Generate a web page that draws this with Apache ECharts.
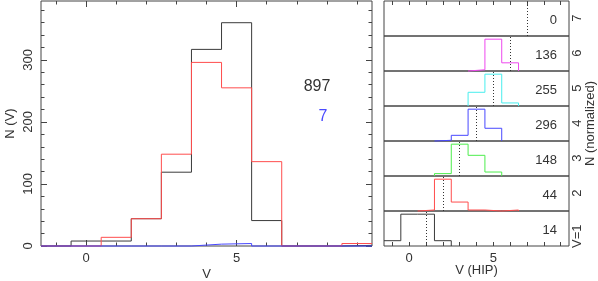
<!DOCTYPE html>
<html><head><meta charset="utf-8">
<script src="https://cdn.jsdelivr.net/npm/echarts@6/dist/echarts.min.js"></script>
<style>html,body{margin:0;padding:0;background:#fff}#c{width:598px;height:281px}</style>
</head><body><div id="c"></div>
<script>
// ---- data ----
const binCenters = [-1, 0, 1, 2, 3, 4, 5, 6, 7, 8, 9];
const countsV      = [0, 8, 8, 44, 119, 317, 360, 41, 0, 0, 1];     // black
const countsHipV   = [0, 0, 14, 44, 148, 296, 255, 136, 0, 0, 4];   // red
const countsOther  = [0, 0, 0, 0, 0, 3, 4, 0, 0, 0, 0];             // blue
const totalLabel = '897';
const otherLabel = '7';
const leftYMajor = [0, 100, 200, 300];
const leftYMinor = [20, 40, 60, 80, 120, 140, 160, 180, 220, 240, 260, 280, 320, 340, 360, 380];
const xMajor = [0, 5];
const xMinor = [-1, 1, 2, 3, 4, 6, 7, 8, 9];
const xAll = [-1, 0, 1, 2, 3, 4, 5, 6, 7, 8, 9];

// right panels (HIP V bin = 1..7), counts of V per bin -1..9
const panelNames  = ['V=1', '2', '3', '4', '5', '6', '7'];
const panelTotals = ['14', '44', '148', '296', '255', '136', '0'];
const panelHipV   = [1, 2, 3, 4, 5, 6, 7];
const panel1 = [1, 6, 6, 1, 0, 0, 0, 0, 0, 0, 0];
const panel2 = [0, 0, 1, 32, 9, 1, 0, 1, 0, 0, 0];
const panel3 = [0, 0, 0, 6, 80, 52, 10, 0, 0, 0, 0];
const panel4 = [0, 0, 0, 4, 33, 185, 74, 0, 0, 0, 0];
const panel5 = [0, 0, 0, 0, 0, 72, 167, 16, 0, 0, 0];
const panel6 = [0, 0, 0, 0, 0, 4, 105, 27, 0, 0, 0];
const panel7 = [];
const panelData = [panel1, panel2, panel3, panel4, panel5, panel6, panel7];
const panelColors = ['#3a3a3a', '#ff4d4d', '#4ded4d', '#4848ff', '#48eeee', '#ee48ee', '#3a3a3a'];

// ---- build ----
function steps(vals) {
  const pts = [];
  vals.forEach((v, i) => { pts.push([binCenters[i] - 0.5, v]); pts.push([binCenters[i] + 0.5, v]); });
  return pts;
}
function trimmedSteps(vals) {
  let a = vals.findIndex(v => v > 0);
  let b = vals.length - 1;
  while (b > 0 && !(vals[b] > 0)) b--;
  if (a < 0) return [];
  const pts = [];
  if (a > 0) pts.push([binCenters[a] - 0.5, 0]);
  for (let i = a; i <= b; i++) { pts.push([binCenters[i] - 0.5, vals[i]]); pts.push([binCenters[i] + 0.5, vals[i]]); }
  pts.push([binCenters[b] + 0.5, 0]);
  return pts;
}
function normalize(vals) {
  const m = Math.max(...vals);
  return vals.map(v => v / m);
}
const FONT = "'Liberation Sans', Arial, sans-serif";
const TXT = '#333';
const FRAME = '#444';

const chart = echarts.init(document.getElementById('c'), null, { renderer: 'canvas' });

const grids = [{ left: 41, top: 1, width: 331, height: 245, show: true, borderColor: FRAME, borderWidth: 1, backgroundColor: 'transparent', containLabel: false, outerBoundsMode: 'none' }];
const panelH = 35;
for (let k = 0; k < 7; k++) {
  grids.push({ left: 384, top: 1 + panelH * (6 - k), width: 185, height: panelH, show: true, borderColor: FRAME, borderWidth: 1, backgroundColor: 'transparent', containLabel: false, outerBoundsMode: 'none' });
}

function tickAxis(gridIndex, pos, vals, len, extra) {
  return Object.assign({
    gridIndex, type: 'value', position: pos, min: -1.5, max: 9.5,
    axisLine: { show: false, onZero: false }, splitLine: { show: false },
    axisTick: { show: vals.length > 0, inside: true, length: len, customValues: vals, lineStyle: { color: FRAME } },
    axisLabel: { show: false }
  }, extra || {});
}
function yTickAxis(gridIndex, pos, vals, len, extra) {
  return Object.assign({
    gridIndex, type: 'value', position: pos, min: 0, max: 395,
    axisLine: { show: false, onZero: false }, splitLine: { show: false },
    axisTick: { show: true, inside: true, length: len, customValues: vals, lineStyle: { color: FRAME } },
    axisLabel: { show: false }
  }, extra || {});
}

const xAxes = [
  tickAxis(0, 'bottom', xMajor, 6, {
    axisLabel: { show: true, customValues: xMajor, fontSize: 13, color: TXT, fontFamily: FONT, margin: 6 },
    name: 'V', nameLocation: 'middle', nameGap: 22, nameMoveOverlap: false, nameTextStyle: { fontSize: 13, color: TXT, fontFamily: FONT }
  }),
  tickAxis(0, 'bottom', xMinor, 3.5),
  tickAxis(0, 'top', xMajor, 6),
  tickAxis(0, 'top', xMinor, 3.5)
];
const yAxes = [
  yTickAxis(0, 'left', leftYMajor, 6, {
    axisLabel: { show: true, customValues: leftYMajor, rotate: 90, fontSize: 13, color: TXT, fontFamily: FONT, margin: 6 }
  }),
  yTickAxis(0, 'left', leftYMinor, 3.5),
  yTickAxis(0, 'right', leftYMajor, 6),
  yTickAxis(0, 'right', leftYMinor, 3.5)
];

const series = [
  { type: 'line', xAxisIndex: 0, yAxisIndex: 0, data: steps(countsV), showSymbol: false, clip: false, lineStyle: { color: '#3a3a3a', width: 1 }, itemStyle: { color: '#3a3a3a' }, animation: false },
  { type: 'line', xAxisIndex: 0, yAxisIndex: 0, data: steps(countsHipV), showSymbol: false, clip: false, lineStyle: { color: '#ff4d4d', width: 1 }, itemStyle: { color: '#ff4d4d' }, animation: false },
  { type: 'line', xAxisIndex: 0, yAxisIndex: 0, data: steps(countsOther), showSymbol: false, clip: false, lineStyle: { color: '#4848ff', width: 1 }, itemStyle: { color: '#4848ff' }, animation: false }
];

for (let k = 0; k < 7; k++) {
  const g = k + 1;
  const xi = xAxes.length;
  if (k === 0) {
    xAxes.push(tickAxis(g, 'bottom', xAll, 4, {
      axisLabel: { show: true, customValues: xMajor, fontSize: 13, color: TXT, fontFamily: FONT, margin: 6 },
      name: 'V (HIP)', nameLocation: 'middle', nameGap: 18, nameMoveOverlap: false, nameTextStyle: { fontSize: 13, color: TXT, fontFamily: FONT }
    }));
  } else {
    xAxes.push(tickAxis(g, 'bottom', [], 0, { axisTick: { show: false } }));
  }
  if (k === 6) xAxes.push(tickAxis(g, 'top', xAll, 4));
  const yi = yAxes.length;
  yAxes.push({ gridIndex: g, type: 'value', min: 0, max: 1.1, show: false });
  const d = panelData[k];
  series.push({
    type: 'line', xAxisIndex: xi, yAxisIndex: yi,
    data: d.length ? trimmedSteps(normalize(d)) : [],
    showSymbol: false, clip: false, animation: false,
    lineStyle: { color: panelColors[k], width: 1 }, itemStyle: { color: panelColors[k] },
    markLine: {
      silent: true, symbol: 'none', animation: false,
      label: { show: false },
      lineStyle: { color: '#333', type: [1, 2], width: 1 },
      data: [[{ coord: [panelHipV[k], 0] }, { coord: [panelHipV[k], 1.1] }]]
    }
  });
}

const graphics = [
  { type: 'text', x: 317, y: 87, style: { text: totalLabel, fill: TXT, font: '16px ' + FONT, textAlign: 'center', textVerticalAlign: 'middle' } },
  { type: 'text', x: 323, y: 117, style: { text: otherLabel, fill: '#4a4aff', font: '16px ' + FONT, textAlign: 'center', textVerticalAlign: 'middle' } },
  { type: 'text', x: 10, y: 123.5, rotation: Math.PI / 2, style: { text: 'N (V)', fill: TXT, font: '13px ' + FONT, textAlign: 'center', textVerticalAlign: 'middle' } },
  { type: 'text', x: 590, y: 123.5, rotation: Math.PI / 2, style: { text: 'N (normalized)', fill: TXT, font: '13px ' + FONT, textAlign: 'center', textVerticalAlign: 'middle' } }
];
for (let k = 0; k < 7; k++) {
  const cy = 1 + panelH * (6 - k) + panelH / 2;
  graphics.push({ type: 'text', x: 557, y: cy + 2, style: { text: panelTotals[k], fill: TXT, font: '13px ' + FONT, textAlign: 'right', textVerticalAlign: 'middle' } });
  graphics.push({ type: 'text', x: 577, y: cy - 4, rotation: Math.PI / 2, style: { text: panelNames[k], fill: TXT, font: '13px ' + FONT, textAlign: 'right', textVerticalAlign: 'middle' } });
}

chart.setOption({
  animation: false,
  backgroundColor: '#fff',
  textStyle: { fontFamily: FONT },
  grid: grids,
  xAxis: xAxes,
  yAxis: yAxes,
  series: series,
  graphic: graphics
});
</script>
</body></html>
